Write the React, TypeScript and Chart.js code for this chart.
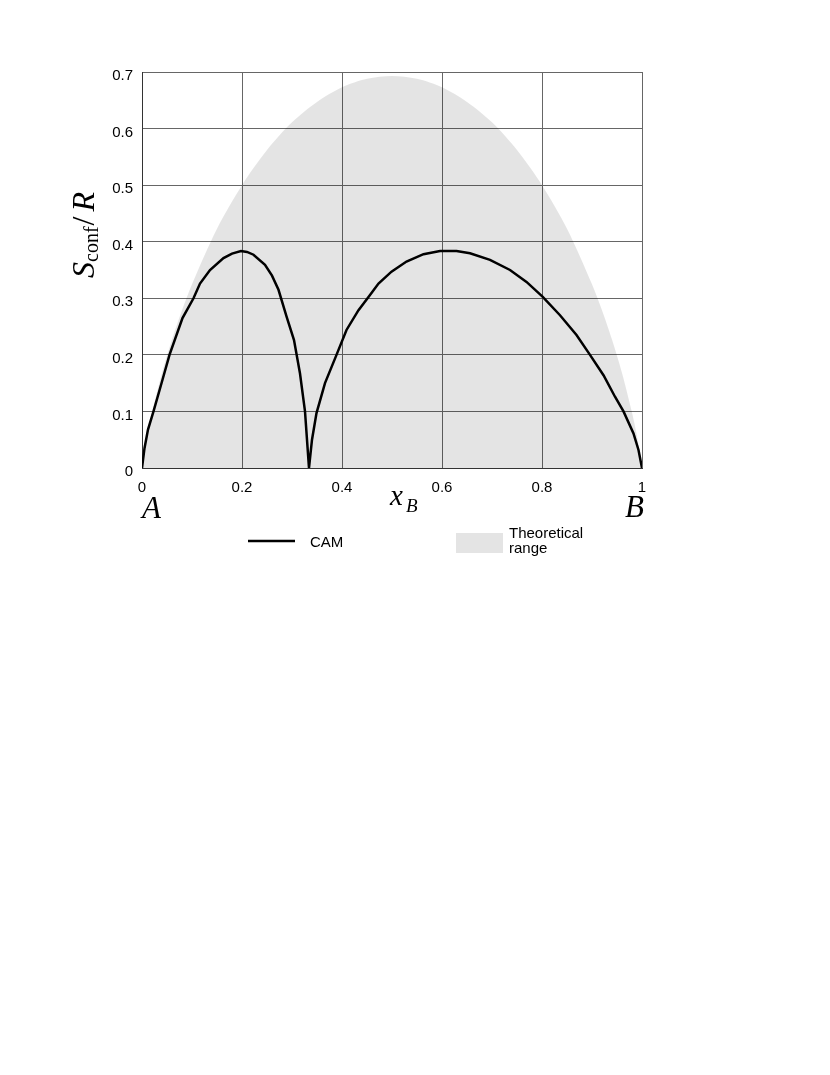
import React, { useEffect, useRef } from "react";
import { Chart, registerables } from "chart.js";

Chart.register(...registerables);

// Theoretical range (upper boundary of the grey area)
const rangeX = [0, 0.01, 0.02, 0.04, 0.06, 0.08, 0.1, 0.15, 0.2, 0.25, 0.3, 0.35, 0.4, 0.45, 0.5, 0.55, 0.6, 0.65, 0.7, 0.75, 0.8, 0.85, 0.9, 0.92, 0.94, 0.96, 0.98, 0.99, 1];
const rangeY = [0, 0.056, 0.098, 0.168, 0.227, 0.279, 0.325, 0.423, 0.5, 0.562, 0.611, 0.647, 0.673, 0.688, 0.693, 0.688, 0.673, 0.647, 0.611, 0.562, 0.5, 0.423, 0.325, 0.279, 0.227, 0.168, 0.098, 0.056, 0];

// CAM curve
const camX = [0, 0.005, 0.012, 0.023, 0.041, 0.055, 0.081, 0.103, 0.116, 0.136, 0.163, 0.18, 0.198, 0.21, 0.223, 0.246, 0.26, 0.273, 0.289, 0.304, 0.316, 0.326, 0.334, 0.340, 0.349, 0.366, 0.389, 0.409, 0.433, 0.456, 0.473, 0.499, 0.529, 0.563, 0.596, 0.629, 0.656, 0.696, 0.736, 0.769, 0.801, 0.836, 0.869, 0.896, 0.923, 0.946, 0.963, 0.983, 0.993, 1];
const camY = [0, 0.035, 0.068, 0.1, 0.156, 0.2, 0.265, 0.3, 0.326, 0.35, 0.371, 0.379, 0.3836, 0.382, 0.377, 0.359, 0.34, 0.315, 0.268, 0.226, 0.167, 0.1, 0, 0.05, 0.097, 0.15, 0.2, 0.244, 0.279, 0.306, 0.326, 0.347, 0.365, 0.378, 0.3836, 0.3836, 0.3795, 0.368, 0.35, 0.329, 0.303, 0.27, 0.235, 0.2, 0.164, 0.126, 0.1, 0.061, 0.0318, 0];

const xMin = 0, xMax = 1, xStep = 0.2;
const yMin = 0, yMax = 0.7, yStep = 0.1;

const SERIF = '"Liberation Serif", "DejaVu Serif", serif';
const SANS = '"Liberation Sans", Arial, sans-serif';

const W = 814;
const H = 580;

const fmt = (v: number) => String(Number(v.toFixed(2)));

const annotPlugin = {
  id: "annot",
  afterDraw(chart: any) {
    const ctx = chart.ctx as CanvasRenderingContext2D;
    ctx.save();
    ctx.fillStyle = "#000";
    ctx.textBaseline = "alphabetic";
    ctx.textAlign = "left";

    // Y axis title (rotated)
    const pieces = [
      { t: "S", f: `italic 32px ${SERIF}`, dy: 0, gap: 0 },
      { t: "conf", f: `20px ${SERIF}`, dy: 4, gap: 1 },
      { t: "/", f: `32px ${SERIF}`, dy: 0, gap: 5 },
      { t: "R", f: `italic 32px ${SERIF}`, dy: 0, gap: 0 },
    ];
    let total = 0;
    const widths: number[] = [];
    pieces.forEach((p) => {
      ctx.font = p.f;
      const w = ctx.measureText(p.t).width;
      widths.push(w);
      total += w + p.gap;
    });
    ctx.save();
    ctx.translate(86, 227);
    ctx.rotate(-Math.PI / 2);
    let x = -total / 2;
    pieces.forEach((p, i) => {
      ctx.font = p.f;
      ctx.fillText(p.t, x, p.dy);
      x += widths[i] + p.gap;
    });
    ctx.restore();

    // X axis title
    ctx.font = `italic 29px ${SERIF}`;
    ctx.fillText("x", 382, 497);
    ctx.font = `italic 19px ${SERIF}`;
    ctx.fillText("B", 398, 504);

    // End labels
    ctx.font = `italic 31px ${SERIF}`;
    ctx.fillText("A", 134, 510);
    ctx.fillText("B", 617, 509);

    // Legend
    ctx.strokeStyle = "#000";
    ctx.lineWidth = 2.5;
    ctx.beginPath();
    ctx.moveTo(240, 533);
    ctx.lineTo(287, 533);
    ctx.stroke();
    ctx.font = `15px ${SANS}`;
    ctx.fillText("CAM", 302, 539);
    ctx.fillStyle = "#e4e4e4";
    ctx.fillRect(448, 525, 47, 20);
    ctx.fillStyle = "#000";
    ctx.fillText("Theoretical", 501, 530);
    ctx.fillText("range", 501, 545);

    ctx.restore();
  },
};

export default function App() {
  const ref = useRef<HTMLCanvasElement | null>(null);

  useEffect(() => {
    if (!ref.current) return;
    const chart = new Chart(ref.current, {
      type: "line",
      data: {
        datasets: [
          {
            label: "CAM",
            data: camX.map((x, i) => ({ x, y: camY[i] })),
            borderColor: "#000",
            borderWidth: 2.5,
            pointRadius: 0,
            fill: false,
            tension: 0,
          },
          {
            label: "Theoretical range",
            data: rangeX.map((x, i) => ({ x, y: rangeY[i] })),
            borderWidth: 0,
            borderColor: "rgba(0,0,0,0)",
            backgroundColor: "rgba(0,0,0,0.105)",
            pointRadius: 0,
            fill: "origin",
            tension: 0.3,
          },
        ],
      },
      options: {
        animation: false,
        responsive: false,
        devicePixelRatio: 1,
        maintainAspectRatio: false,
        layout: { padding: { left: 94, right: 180, top: 64, bottom: 90 } },
        plugins: {
          legend: { display: false },
          tooltip: { enabled: false },
        },
        scales: {
          x: {
            type: "linear",
            min: xMin,
            max: xMax,
            afterFit: (s: any) => {
              s.height = 30;
            },
            ticks: {
              stepSize: xStep,
              padding: 11,
              color: "#000",
              font: { family: SANS, size: 15 },
              maxRotation: 0,
              callback: (v: any) => fmt(Number(v)),
            },
            grid: { color: "#666", lineWidth: 1, drawTicks: false },
            border: { color: "#333", width: 1 },
          },
          y: {
            type: "linear",
            min: yMin,
            max: yMax,
            afterFit: (s: any) => {
              s.width = 40;
            },
            ticks: {
              stepSize: yStep,
              padding: 9,
              labelOffset: 4,
              color: "#000",
              font: { family: SANS, size: 15 },
              callback: (v: any) => fmt(Number(v)),
            },
            grid: { color: "#666", lineWidth: 1, drawTicks: false },
            border: { color: "#333", width: 1 },
          },
        },
      },
      plugins: [annotPlugin],
    });
    return () => chart.destroy();
  }, []);

  return (
    <div>
      <canvas ref={ref} width={W} height={H} style={{ display: "block", width: W, height: H }} />
    </div>
  );
}
